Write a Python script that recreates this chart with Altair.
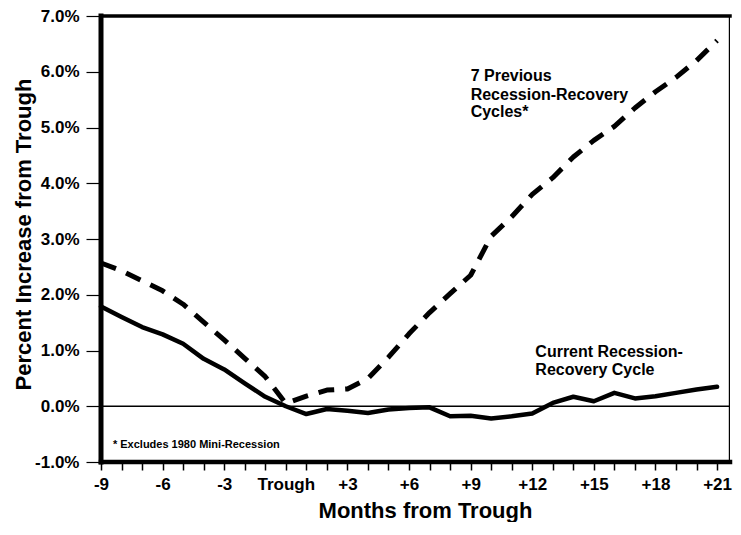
import altair as alt
import pandas as pd

# ---- data ----
months = list(range(-9, 22))
current_cycle = [1.79, 1.60, 1.42, 1.29, 1.12, 0.85, 0.66, 0.41, 0.17, 0.00,
                 -0.14, -0.05, -0.08, -0.12, -0.06, -0.03, -0.02, -0.18, -0.17, -0.22,
                 -0.18, -0.13, 0.06, 0.17, 0.09, 0.24, 0.14, 0.18, 0.24, 0.30, 0.35]
previous_cycles = [2.57, 2.43, 2.25, 2.07, 1.83, 1.51, 1.19, 0.86, 0.53, 0.05,
                   0.18, 0.29, 0.31, 0.50, 0.88, 1.30, 1.68, 2.02, 2.35, 3.05,
                   3.40, 3.80, 4.10, 4.47, 4.77, 5.02, 5.35, 5.64, 5.90, 6.20, 6.56]
x_ticks = list(range(-9, 22))
y_ticks = [-1, 0, 1, 2, 3, 4, 5, 6, 7]

note_text = ["7 Previous", "Recession-Recovery", "Cycles*",
             "Current Recession-", "Recovery Cycle",
             "* Excludes 1980 Mini-Recession"]
note_month = [9.0, 9.0, 9.0, 12.15, 12.15, -8.42]
note_value = [5.84, 5.49, 5.18, 0.885, 0.565, -0.745]
note_size = [16, 16, 16, 16, 16, 11]

W, H = 629, 446
FONT = "Liberation Sans"

df = pd.DataFrame({
    "month": months + months,
    "value": current_cycle + previous_cycles,
    "series": ["current"] * len(months) + ["previous"] * len(months),
})
notes = pd.DataFrame({"month": note_month, "value": note_value,
                      "text": note_text, "size": note_size})
zero_df = pd.DataFrame({"month": [0], "value": [0]})

xscale = alt.Scale(domain=[-9, 21.63], nice=False, zero=False)
yscale = alt.Scale(domain=[-1, 7], nice=False, zero=False)

x_axis = alt.Axis(
    values=x_ticks,
    labelExpr="datum.value == 0 ? 'Trough' : (datum.value % 3 != 0 ? '' : (datum.value > 0 ? '+' + datum.value : '' + datum.value))",
    title="Months from Trough", grid=False, domain=False,
    tickColor="black", tickSize=8, tickWidth=1.5,
    labelPadding=6, labelFont=FONT, labelFontWeight="bold", labelFontSize=17,
    labelColor="black", labelOverlap=False, labelFlush=False,
    titleFont=FONT, titleFontWeight="bold", titleFontSize=22, titleColor="black",
    titleBaseline="alphabetic", titleY=55, titleX=324,
)
y_axis = alt.Axis(
    values=y_ticks,
    labelExpr="(datum.value < 0 ? '-' : '') + format(abs(datum.value), '.1f') + '%'",
    title="Percent Increase from Trough", grid=False, domain=False,
    tickColor="black", tickSize=15, tickWidth=1.2,
    labelPadding=7, labelFont=FONT, labelFontWeight="bold", labelFontSize=17,
    labelColor="black",
    titleFont=FONT, titleFontWeight="bold", titleFontSize=22, titleColor="black",
    titleAngle=270, titleBaseline="alphabetic", titleX=-71, titleY=218,
)

X = alt.X("month:Q", scale=xscale, axis=x_axis)
Y = alt.Y("value:Q", scale=yscale, axis=y_axis)

base = alt.Chart(df)

solid = base.transform_filter(alt.datum.series == "current").mark_line(
    color="black", strokeWidth=4.5, strokeJoin="round", strokeCap="round"
).encode(x=X, y=Y)

dashed = base.transform_filter(alt.datum.series == "previous").mark_line(
    color="black", strokeWidth=5, strokeDash=[16, 11], strokeJoin="round"
).encode(x=X, y=Y)

zero_line = alt.Chart(zero_df).mark_rule(color="black", strokeWidth=1.5).encode(
    y=Y, x=alt.value(0), x2=alt.value(W),
)

frame = alt.Chart(zero_df)
top_border = frame.mark_rule(color="black", strokeWidth=3.5, strokeCap="square").encode(
    x=alt.value(0), x2=alt.value(W), y=alt.value(0),
)
bottom_border = frame.mark_rule(color="black", strokeWidth=4.5, strokeCap="square").encode(
    x=alt.value(0), x2=alt.value(W), y=alt.value(H),
)
left_border = frame.mark_rule(color="black", strokeWidth=5, strokeCap="square").encode(
    x=alt.value(0), y=alt.value(0), y2=alt.value(H),
)
right_border = frame.mark_rule(color="black", strokeWidth=1.2).encode(
    x=alt.value(W - 0.6), y=alt.value(0), y2=alt.value(H),
)

labels = alt.Chart(notes).mark_text(
    align="left", baseline="alphabetic", font=FONT, fontWeight="bold", color="black"
).encode(
    x=X, y=Y,
    text="text:N",
    size=alt.Size("size:Q", scale=None, legend=None),
)

chart = alt.layer(
    solid, dashed, zero_line, top_border, bottom_border, left_border, right_border, labels
).properties(
    width=W, height=H,
    autosize=alt.AutoSizeParams(type="none"),
    padding={"left": 93, "top": 8, "right": 3, "bottom": 60},
    background="white",
).configure_view(stroke=None)

chart.save("out.html", embed_options={"renderer": "svg", "actions": False})
